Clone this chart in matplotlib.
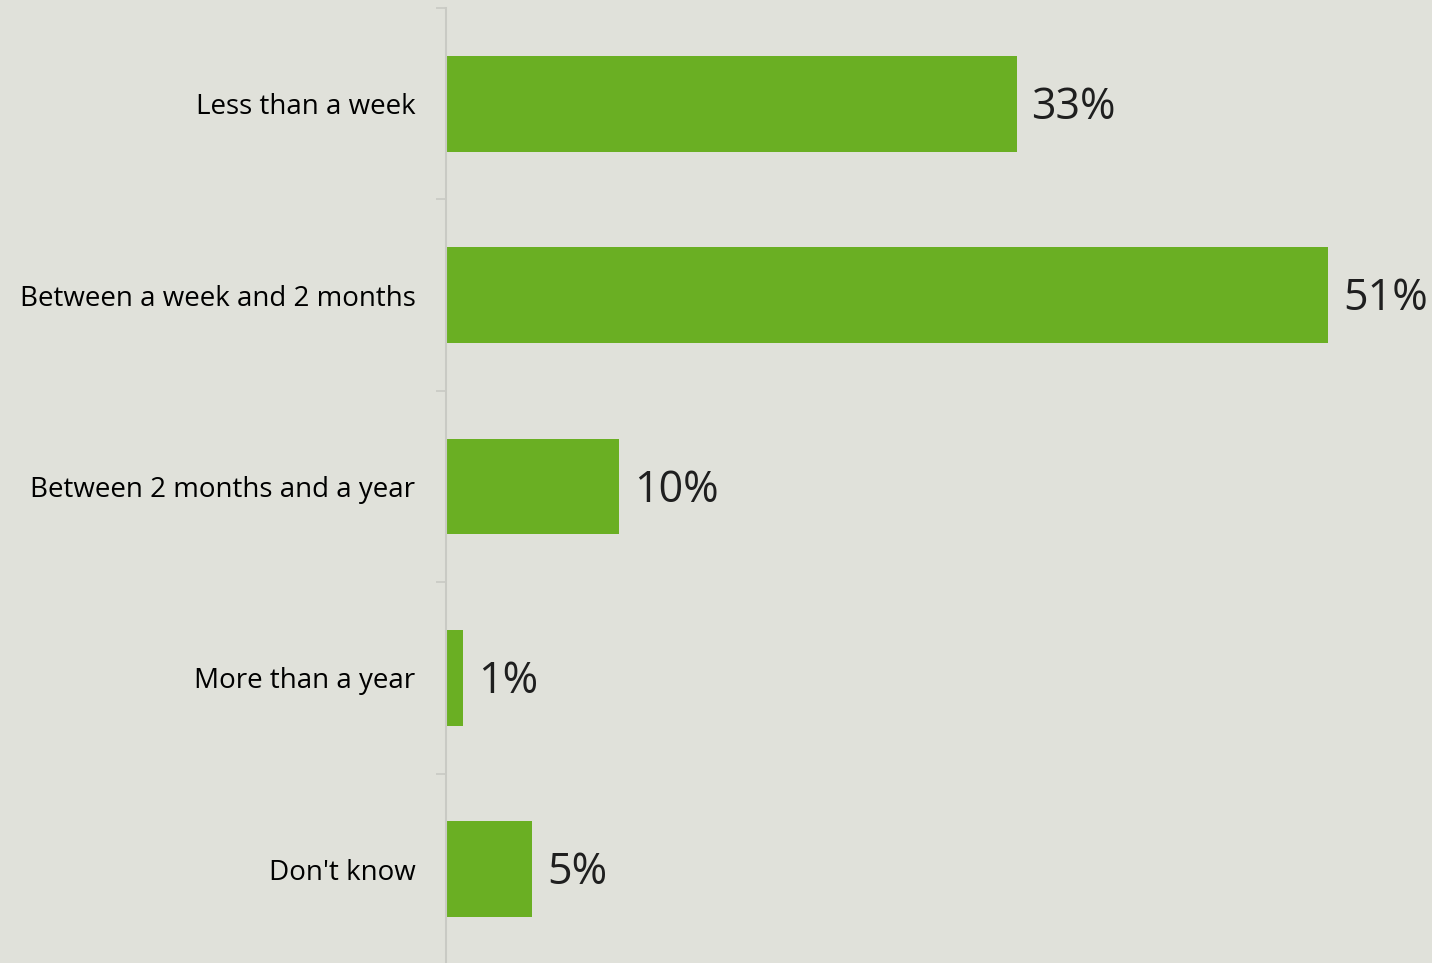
import numpy as np
import matplotlib.pyplot as plt

categories = ["Less than a week", "Between a week and 2 months",
              "Between 2 months and a year", "More than a year", "Don't know"]
shares = [33, 51, 10, 1, 5]

BG = "#E0E1DA"
BAR = "#6AAF23"
TEXT = "#1F1F1F"

plt.rcParams['font.family'] = ['Open Sans', 'DejaVu Sans']

fig = plt.figure(figsize=(14.32, 9.63), dpi=100, facecolor=BG)
ax = fig.add_axes([446 / 1432, -2 / 963, 1 - 446 / 1432, 957 / 963])
ax.set_facecolor(BG)

y = np.arange(len(categories))
bars = ax.barh(y, shares, height=0.5, color=BAR)

# percentage labels to the right of each bar
for yi, v in zip(y, shares):
    ax.text(v + 0.85, yi + 0.02, f"{v}%", va="center", ha="left",
            fontsize=31, color=TEXT)

ax.set_xlim(0, 57.0)
ax.set_ylim(len(categories) - 0.5, -0.5)

ax.set_yticks(y)
ax.set_yticklabels(categories, fontsize=20, color="black")
ax.tick_params(axis="y", which="major", length=0, pad=22)
# separators between categories
ax.set_yticks(np.arange(len(categories) + 1) - 0.5, minor=True)
ax.tick_params(axis="y", which="minor", length=7, width=1.2, color="#C9CAC4")

ax.set_xticks([])
for side in ["top", "right", "bottom"]:
    ax.spines[side].set_visible(False)
ax.spines["left"].set_color("#C9CAC4")
ax.spines["left"].set_linewidth(1.5)

fig.savefig("out.png", dpi=100, facecolor=BG)
